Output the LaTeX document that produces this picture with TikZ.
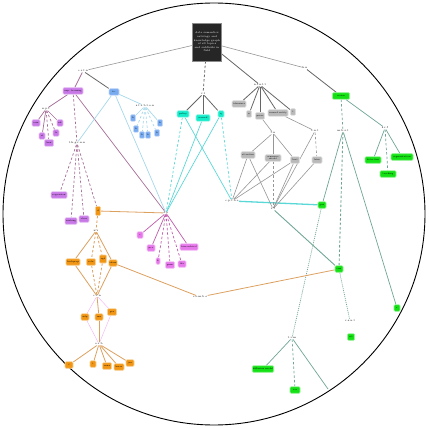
\documentclass[tikz,border=0pt]{standalone}
\usetikzlibrary{backgrounds}
\definecolor{purN}{RGB}{200,120,230}
\definecolor{bluN}{RGB}{120,170,240}
\definecolor{cyaN}{RGB}{20,235,200}
\definecolor{graN}{RGB}{185,185,185}
\definecolor{greN}{RGB}{20,225,20}
\definecolor{oraN}{RGB}{240,150,20}
\definecolor{magN}{RGB}{230,120,235}
\definecolor{purL}{RGB}{165,110,150}
\definecolor{bluL}{RGB}{165,215,235}
\definecolor{cyaL}{RGB}{90,215,215}
\definecolor{graL}{RGB}{150,150,150}
\definecolor{greL}{RGB}{110,165,150}
\definecolor{oraL}{RGB}{220,160,95}
\definecolor{magL}{RGB}{190,90,170}
\begin{document}
\begin{tikzpicture}[x=1pt,y=-1pt,
    box/.style={rounded corners=1pt,inner sep=0.6pt,minimum height=6.5,
      line width=0.7pt,font=\fontsize{2.2}{2.6}\selectfont},
    wd/.style={minimum width=#1},
    pnode/.style={box,fill=purN,draw=purN!45},
    bnode/.style={box,fill=bluN,draw=bluN!45},
    cnode/.style={box,fill=cyaN,draw=cyaN!40},
    gnode/.style={box,fill=graN,draw=graN!45},
    grnode/.style={box,fill=greN,draw=greN!45},
    onode/.style={box,fill=oraN,draw=oraN!45},
    mnode/.style={box,fill=magN,draw=magN!45},
    hub/.style={inner sep=0.4pt,font=\fontsize{2.7}{3.2}\selectfont},
    lp/.style={purL,line width=0.7pt},
    lb/.style={bluL,line width=0.7pt},
    lc/.style={cyaL,line width=0.7pt},
    lg/.style={graL,line width=0.6pt},
    lgd/.style={black!60,line width=0.8pt},
    lgr/.style={greL,line width=0.7pt},
    lo/.style={oraL,line width=0.8pt},
    lm/.style={magL,line width=0.7pt},
    dsh/.style={dash pattern=on 2.5pt off 2pt},
    dot/.style={dash pattern=on 1pt off 1pt}]
  \useasboundingbox (0,0) rectangle (429,428);
  \draw[line width=0.9pt] (214,214) circle (211);

  % root
  \node[fill=black!85,draw=black!45,text=white,inner sep=1pt,
    minimum width=29,minimum height=38,align=center,
    font=\fontsize{2.6}{3.6}\selectfont] (root) at (207,42)
    {data semantics\\ontology and\\knowledge graph\\of all topics\\and subfields in\\field};

  % hubs
  \node[hub] (hL) at (83,71) {c.r.t.n};
  \node[hub] (hT) at (305,68) {k.n};
  \node[hub] (hC) at (203,94) {v.t};
  \node[hub] (hG) at (260,85) {n.l.n.l.t};
  \node[hub] (hP) at (46,109) {n.p.t};
  \node[hub] (hB) at (145,106) {s.t.r.b.t.o.n};
  \node[hub] (hP2) at (77,143) {t.h.g.r.n.n};
  \node[hub] (hM) at (166,213) {s.p};
  \node[hub] (hGa) at (273,133) {t.n};
  \node[hub] (hGb) at (315,131) {c.n.t};
  \node[hub] (hX) at (232,201) {c.p.t.b.e};
  \node[hub] (hY) at (273,209) {r.t};
  \node[hub] (hO) at (96,231) {n.r};
  \node[hub] (hO2) at (200,297) {c.o.m.b.e};
  \node[hub] (hO3) at (97,296) {c.v.n};
  \node[hub] (hO4) at (99,344) {o.r.b};
  \node[hub] (hG1) at (343,131) {m.b.s.t};
  \node[hub] (hG2) at (385,128) {s.r.f};
  \node[hub] (hG3) at (292,338) {t.r.m};
  \node[hub] (hG4) at (350,321) {r.s.u.l};
  \coordinate (gOff) at (328,389);

  % purple and blue
  \node[pnode,wd=20] (p1) at (73,91) {sup. learning};
  \node[bnode,wd=10] (b1) at (114,92) {fo.};
  \node[pnode,wd=8] (pa) at (36,123) {svm};
  \node[pnode,wd=6] (pb) at (42,136) {rf};
  \node[pnode,wd=9] (pc) at (49,143) {knn};
  \node[pnode,wd=6] (pd) at (56,133) {lr};
  \node[pnode,wd=6] (pe) at (60,123) {nb};
  \foreach \n/\p in {ba/{(133,118)},bb/{(136,129)},bc/{(142,135)},
                     bd/{(148,135)},be/{(157,133)},bf/{(160,123)}}
    \node[bnode,wd=5] (\n) at \p {b};
  \node[pnode,wd=16] (pf) at (59,195) {regression};
  \node[pnode,wd=12] (pg) at (71,221) {ranking};
  \node[pnode,wd=10] (ph) at (84,219) {class};

  % magenta
  \node[mnode,wd=6] (ma) at (140,235) {c};
  \node[mnode,wd=8] (mb) at (151,248) {pca};
  \node[mnode,wd=4] (mc) at (158,261) {k};
  \node[mnode,wd=9] (md) at (170,265) {gmm};
  \node[mnode,wd=8] (me) at (182,264) {lda};
  \node[mnode,wd=18] (mf) at (189,247) {hierarchical};

  % cyan
  \node[cnode,wd=12] (c1) at (183,114) {policy};
  \node[cnode,wd=14] (c2) at (203,118) {reward};
  \node[cnode,wd=6] (c3) at (221,114) {q};

  % gray
  \node[gnode,wd=14] (g1) at (239,104) {tokenizer};
  \node[gnode,wd=5] (g2) at (249,114) {n};
  \node[gnode,wd=9] (g3) at (260,116) {parse};
  \node[gnode,wd=20] (g4) at (278,113) {named entity};
  \node[gnode,wd=5] (g5) at (293,112) {t};
  \node[gnode,wd=14] (gl1) at (248,155) {attention};
  \node[gnode,wd=16,align=center] (gl2) at (273,158) {sequence\\model};
  \node[gnode,wd=9] (gl3) at (295,160) {bert};
  \node[gnode,wd=10] (gl4) at (317,160) {lstm};

  % green
  \node[grnode,wd=17] (G1) at (341,96) {vision};
  \node[grnode,wd=8] (G2) at (322,205) {gan};
  \node[grnode,wd=8] (G3) at (339,269) {cnn};
  \node[grnode,wd=6] (G4) at (397,308) {r};
  \node[grnode,wd=16] (ga) at (373,160) {detection};
  \node[grnode,wd=22] (gb) at (402,157) {segmentation};
  \node[grnode,wd=16] (gc) at (388,174) {tracking};
  \node[grnode,wd=7] (gs) at (351,337) {vit};
  \node[grnode,wd=20] (gd) at (263,369) {diffusion model};
  \node[grnode,wd=10] (ge) at (295,390) {vae};

  % orange
  \node[onode,wd=5,minimum height=9] (o1) at (98,211) {d};
  \node[onode,wd=14] (oa) at (73,262) {backprop};
  \node[onode,wd=9] (ob) at (91,262) {relu};
  \node[onode,wd=7,minimum height=8] (oc) at (103,259) {sgd};
  \node[onode,wd=8] (od) at (113,263) {adam};
  \node[onode,wd=8] (oe) at (85,317) {mlp};
  \node[onode,wd=8] (of) at (99,317) {rnn};
  \node[onode,wd=9] (og) at (112,312) {gru};
  \node[onode,wd=8] (oh) at (69,365) {f};
  \node[onode,wd=6] (oi) at (93,364) {t};
  \node[onode,wd=9] (oj) at (107,366) {onnx};
  \node[onode,wd=10] (ok) at (119,367) {keras};
  \node[onode,wd=8] (ol) at (130,363) {jax};

  \begin{scope}[on background layer]
    % top level
    \draw[lg] (root) -- (hL);
    \draw[lg] (root) -- (hT);
    \draw[lgd] (root) -- (hG);
    \draw[lgd,dsh] (root) -- (hC);
    \draw[lp] (hL) -- (p1);
    \draw[lgd] (hL) -- (b1);
    \draw[lgd] (hT) -- (G1);
    \foreach \n in {g1,g2,g3,g4,g5} \draw[lgd] (hG) -- (\n);
    \foreach \n in {c1,c2,c3} \draw[lgd] (hC) -- (\n);
    % purple / blue
    \draw[lp] (p1) -- (hP);
    \draw[lp,dsh] (p1) -- (hP2);
    \draw[lp] (p1) -- (hM);
    \foreach \n in {pa,pb,pe} \draw[lp] (hP) -- (\n);
    \foreach \n in {pc,pd} \draw[lp,dsh] (hP) -- (\n);
    \draw[lb] (b1) -- (hB);
    \draw[lb] (b1) -- (hP2);
    \draw[lb] (b1) -- (hM);
    \draw[lb] (hB) -- (ba);
    \draw[lb] (hB) -- (bf);
    \foreach \n in {bb,bc,bd,be} \draw[lb,dsh] (hB) -- (\n);
    \foreach \n in {pf,pg,ph,o1} \draw[lp,dsh] (hP2) -- (\n);
    % magenta
    \foreach \n in {ma,mb,mf} \draw[lm] (hM) -- (\n);
    \foreach \n in {mc,md,me} \draw[lm,dsh] (hM) -- (\n);
    \draw[lo] (o1) -- (hM);
    % cyan
    \draw[lc,dsh] (c1) -- (hM);
    \draw[lc] (c1) -- (hX);
    \draw[lc] (c2) -- (hM);
    \draw[lc] (c3) -- (hM);
    \draw[lc,dsh] (c3) -- (hX);
    \draw[cyaL,line width=1.3pt] (hX) -- (G2);
    % gray
    \draw[lg] (g3) -- (hGa);
    \draw[lg] (g4) -- (hGb);
    \foreach \n in {gl1,gl2,gl3} \draw[lg] (hGa) -- (\n);
    \draw[lg,dsh] (hGb) -- (gl4);
    \draw[lg] (hGb) -- (hY);
    \foreach \n in {gl1,gl2,gl3} \draw[lg] (\n) -- (hX);
    \foreach \n in {gl1,gl3,gl4} \draw[lg] (\n) -- (hY);
    \draw[lg,dsh] (gl2) -- (hY);
    \draw[lgr,line width=0.9pt] (hY) -- (G3);
    % green
    \draw[lgr,dsh] (G1) -- (hG1);
    \draw[lgr] (G1) -- (hG2);
    \draw[lgr] (hG2) -- (ga);
    \draw[lgr] (hG2) -- (gb);
    \draw[lgr,dsh] (hG2) -- (gc);
    \draw[lgr] (hG1) -- (G2);
    \draw[lgr,dsh,line width=0.9pt] (hG1) -- (G3);
    \draw[lgr] (hG1) -- (G4);
    \draw[lgr,dot] (G2) -- (hG3);
    \draw[lgr,dot] (G3) -- (hG4);
    \draw[lgr] (hG3) -- (gd);
    \draw[lgr,dsh] (hG3) -- (ge);
    \draw[lgr] (hG3) -- (gOff);
    % orange
    \draw[lo,dsh] (o1) -- (hO);
    \foreach \n in {oa,od} {
      \draw[lo] (hO) -- (\n);
      \draw[lo] (\n) -- (hO3);
    }
    \foreach \n in {ob,oc} {
      \draw[lo,dsh] (hO) -- (\n);
      \draw[lo,dsh] (\n) -- (hO3);
    }
    \draw[lo] (od) -- (hO2);
    \draw[lo] (hO2) -- (G3);
    \draw[magN!60] (hO3) -- (oe);
    \draw[magN!60] (hO3) -- (og);
    \draw[lo] (hO3) -- (of);
    \draw[magN!60] (oe) -- (hO4);
    \draw[magN!60] (og) -- (hO4);
    \draw[lo] (of) -- (hO4);
    \foreach \n in {oh,oi,oj,ok,ol} \draw[lo] (hO4) -- (\n);
  \end{scope}
\end{tikzpicture}
\end{document}
